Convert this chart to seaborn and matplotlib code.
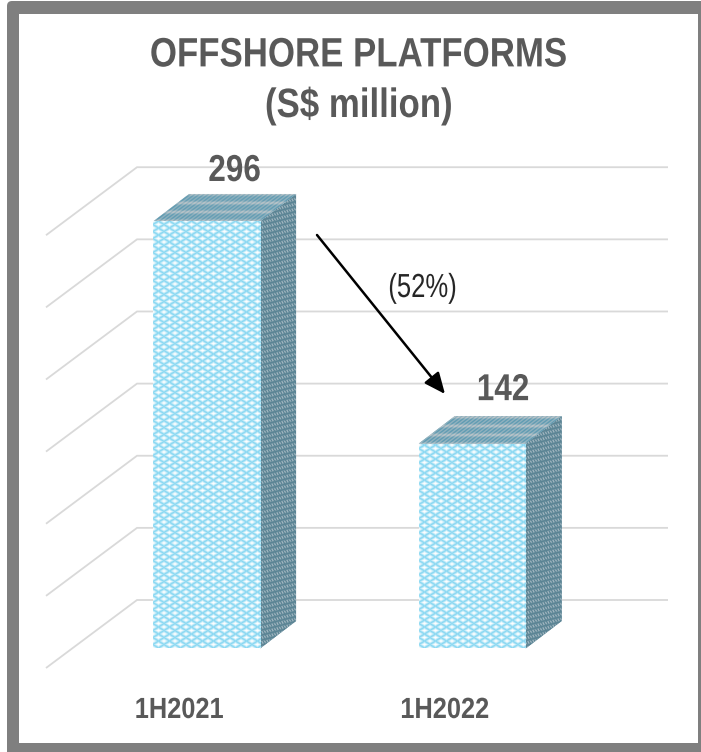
import numpy as np
import pandas as pd
import matplotlib
matplotlib.use("Agg")
import matplotlib.pyplot as plt
import matplotlib.patheffects as pe
from matplotlib.colors import to_rgb
from matplotlib.patches import FancyBboxPatch, Polygon, Rectangle
from matplotlib.transforms import Affine2D
import seaborn as sns

periods = ["1H2021", "1H2022"]
revenue = [296, 142]
gridline_values = [0, 50, 100, 150, 200, 250, 300]
change_label = "(52%)"
chart_title = "OFFSHORE PLATFORMS\n(S$ million)"

W, H = 701, 752
BASE_PX = 648.5       # pixel row of the bar feet
PX_PER_UNIT = 1.4426
CAT0_PX = 206.6
CAT_STEP_PX = 265.6
BAR_WIDTH = 107.0 / CAT_STEP_PX
DEPTH = (36.0, 27.5)  # bar extrusion, right and up, in pixels

TEXT = "#595959"
GRID = "#d9d9d9"
FRAME = "#7f7f7f"


class Condensed(pe.AbstractPathEffect):
    """Draw a text line narrowed horizontally about its own centre."""

    def __init__(self, factor):
        super().__init__()
        self.factor = factor

    def draw_path(self, renderer, gc, tpath, affine, rgbFace=None):
        xs = tpath.vertices[:, 0]
        cx = (xs.min() + xs.max()) / 2
        squeeze = Affine2D().translate(-cx, 0).scale(self.factor, 1).translate(cx, 0)
        gc0 = renderer.new_gc()
        gc0.copy_properties(gc)
        gc0.set_linewidth(0)
        renderer.draw_path(gc0, tpath, squeeze + affine, rgbFace)
        gc0.restore()


def to_x(px):
    return (px - CAT0_PX) / CAT_STEP_PX


def to_y(py):
    return (BASE_PX - py) / PX_PER_UNIT


def blend(t, low, high):
    low, high = np.array(to_rgb(low)), np.array(to_rgb(high))
    return low + (high - low) * np.clip(t, 0, 1)[..., None]


def lattice(x, y, px, py):
    """Woven diamond weave: 1 at the gaps of the weave, 0 on its threads."""
    a = np.cos(2 * np.pi * (x / px + y / py))
    b = np.cos(2 * np.pi * (x / px - y / py))
    return np.minimum(a, b) * 0.5 + 0.5


def front_weave(x, y):
    return blend(lattice(x, y, 11.0, 7.0) ** 0.7, "#8ad8f2", "#ffffff")


def side_weave(x, y):
    return blend(lattice(x, y + x * 0.75, 5.0, 5.0), "#5a8494", "#a3b7c1")


def top_weave(x, y):
    ticks = 0.5 + 0.5 * np.cos(2 * np.pi * (x - y * 1.3) / 4.5)
    bands = 0.5 + 0.5 * np.cos(2 * np.pi * y / 9.0)
    return blend(ticks * 0.55 + bands ** 3 * 0.6, "#5f9bb2", "#b9c4c9")


def fill_with_weave(ax, patch, weave):
    """Paint a pixel-resolution weave across a patch and clip it to that patch."""
    bbox = patch.get_path().get_extents(patch.get_patch_transform())
    w_px = int(np.ceil(bbox.width * CAT_STEP_PX))
    h_px = int(np.ceil(bbox.height * PX_PER_UNIT))
    xx, yy = np.meshgrid(np.arange(w_px) + 0.5, np.arange(h_px) + 0.5)
    img = ax.imshow(weave(xx, yy), origin="lower", aspect="auto", interpolation="bilinear",
                    extent=(bbox.x0, bbox.x1, bbox.y0, bbox.y1), zorder=3.5)
    img.set_clip_path(patch)


sns.set_theme(style="white")
plt.rcParams["font.family"] = ["Liberation Sans", "DejaVu Sans"]

fig = plt.figure(figsize=(W / 100, H / 100), dpi=100, facecolor="white")
pix = Affine2D().scale(1 / W, 1 / H) + fig.transFigure

# thick surround, cut off by the right and bottom edges of the canvas
fig.add_artist(FancyBboxPatch((12, -20), 720, 766, boxstyle="round,pad=5,rounding_size=5",
                              transform=pix, facecolor=FRAME, edgecolor="none", zorder=-3))
fig.add_artist(Rectangle((19, 9), 679, 729, transform=pix, facecolor="white",
                         edgecolor="none", zorder=-2))

ax = fig.add_axes([0, 0, 1, 1])
ax.patch.set_visible(False)

df = pd.DataFrame({"period": periods, "revenue": revenue})
sns.barplot(data=df, x="period", y="revenue", order=periods, ax=ax, width=BAR_WIDTH,
            color="#ffffff", saturation=1, zorder=3, linewidth=0, errorbar=None)
bars = list(ax.patches)

ax.set_xlim(to_x(0), to_x(W))
ax.set_ylim(to_y(H), to_y(0))
ax.set_autoscale_on(False)
ax.axis("off")

# back wall and left wall gridlines
wall_shift = ax.transData + Affine2D().translate(0, 48.5)
for v in gridline_values:
    ax.plot([to_x(46), to_x(137), to_x(668)], [v - 68 / PX_PER_UNIT, v, v],
            color=GRID, lw=1.3, transform=wall_shift, zorder=1,
            solid_capstyle="butt", solid_joinstyle="miter")

# textured faces of each extruded bar
dx_u = DEPTH[0] / CAT_STEP_PX
dy_u = DEPTH[1] / PX_PER_UNIT
for bar, v in zip(bars, revenue):
    xl, xr = bar.get_x(), bar.get_x() + bar.get_width()
    side = Polygon([(xr, 0), (xr + dx_u, dy_u), (xr + dx_u, v + dy_u), (xr, v)],
                   closed=True, facecolor="#6f93a5", lw=0, zorder=3)
    top = Polygon([(xl, v), (xl + dx_u, v + dy_u), (xr + dx_u, v + dy_u), (xr, v)],
                  closed=True, facecolor="#7fa9ba", lw=0, zorder=3)
    ax.add_patch(side)
    ax.add_patch(top)
    fill_with_weave(ax, side, side_weave)
    fill_with_weave(ax, top, top_weave)
    img = ax.imshow(front_weave(*np.meshgrid(np.arange(int(bar.get_width() * CAT_STEP_PX) + 1) + 0.5,
                                             np.arange(int(v * PX_PER_UNIT) + 1) + 0.5)),
                    origin="lower", aspect="auto", interpolation="bilinear",
                    extent=(xl, xr, 0, v), zorder=3.5)
    img.set_clip_path(bar)

# value and period labels, nudged in pixels from each bar
value_shift = [28, 31]
value_lift = [40.5, 43.5]
for i, v in enumerate(revenue):
    ax.annotate(str(v), (i, v), xytext=(value_shift[i] * 0.72, value_lift[i] * 0.72),
                textcoords="offset points", ha="center", va="baseline", fontsize=27,
                fontweight="bold", color=TEXT, zorder=5, path_effects=[Condensed(0.84)])
    ax.annotate(periods[i], (i, 0), xytext=(-27.5 * 0.72, -69.5 * 0.72),
                textcoords="offset points", ha="center", va="baseline", fontsize=21,
                fontweight="bold", color=TEXT, zorder=5, path_effects=[Condensed(0.87)])

# decline arrow between the two periods
ax.annotate("", xy=(to_x(445), to_y(394)), xytext=(to_x(317), to_y(235)),
            arrowprops=dict(arrowstyle="-|>,head_length=0.75,head_width=0.33", color="black",
                            lw=1.8, shrinkA=0, shrinkB=0, mutation_scale=17), zorder=6)
ax.text(to_x(423), to_y(297), change_label, ha="center", va="baseline", fontsize=24,
        color="#262626", zorder=6, path_effects=[Condensed(0.77)])

fig.text(359 / W, 1 - 117 / H, chart_title, ha="center", va="baseline", fontsize=29.5,
         fontweight="bold", color=TEXT, linespacing=1.42, path_effects=[Condensed(0.85)])

fig.savefig("out.png", dpi=100, facecolor="white")
